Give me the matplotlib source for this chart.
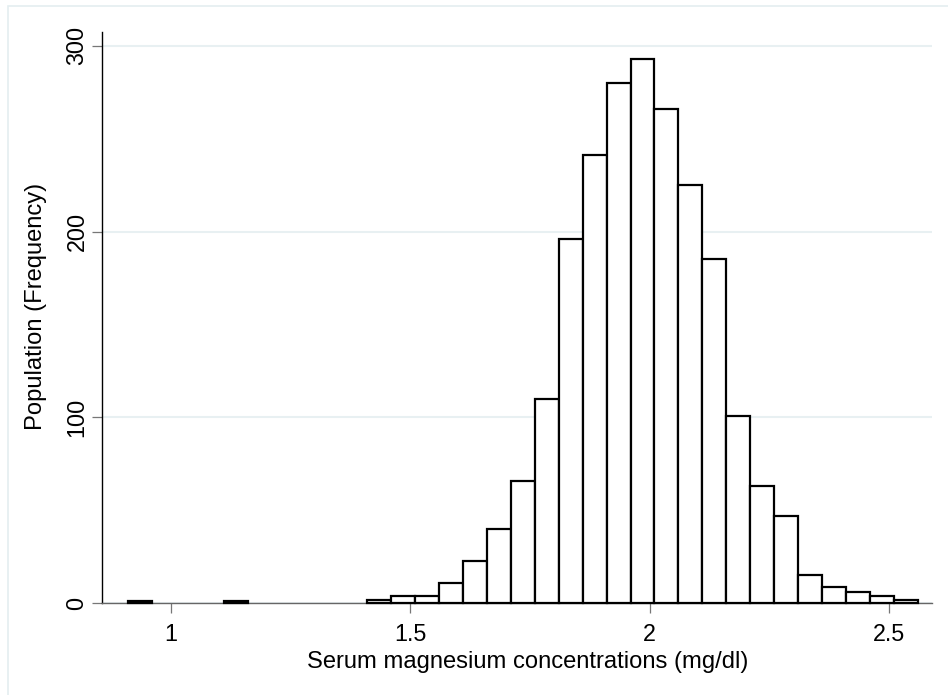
import matplotlib
matplotlib.use("Agg")
import matplotlib.pyplot as plt
from matplotlib.patches import Rectangle
import numpy as np

# ---- data ----
bin_start = 0.91
bin_width = 0.05
counts = [1, 0, 0, 0, 1, 0, 0, 0, 0, 0,
          2, 4, 4, 11, 23, 40, 66, 110, 196, 241,
          280, 293, 266, 225, 185, 101, 63, 47, 15, 9,
          6, 4, 2]
xticks = [1, 1.5, 2, 2.5]
xtick_labels = ["1", "1.5", "2", "2.5"]
yticks = [0, 100, 200, 300]
ytick_labels = ["0", "100", "200", "300"]
xlabel = "Serum magnesium concentrations (mg/dl)"
ylabel = "Population (Frequency)"

plt.rcParams['font.family'] = ['Liberation Sans', 'DejaVu Sans']

W, H = 948, 695
fig = plt.figure(figsize=(W / 100, H / 100), dpi=100)
fig.patch.set_facecolor("white")

# axes placement (pixels -> figure fraction)
L, R, T, B = 102, 932, 32, 603.3
ax = fig.add_axes([L / W, 1 - B / H, (R - L) / W, (B - T) / H])

edges = bin_start + bin_width * np.arange(len(counts) + 1)
left = edges[:-1]
c = np.array(counts)
mask = c > 0
ax.bar(left[mask], c[mask], width=bin_width, align="edge",
       facecolor="white", edgecolor="black", linewidth=1.6,
       zorder=3, clip_on=False)

ax.set_xlim(0.8558, 2.5898)
ax.set_ylim(0, 307.4)

ax.set_xticks(xticks)
ax.set_xticklabels(xtick_labels, fontsize=16.8)
ax.set_yticks(yticks)
ax.set_yticklabels(ytick_labels, fontsize=16.8, rotation=90, va="center")

ax.tick_params(axis="x", direction="out", length=7.2, width=0.9,
               color="#777777", pad=7.3)
ax.tick_params(axis="y", direction="out", length=7.2, width=0.9,
               color="#777777", pad=2.5)

ax.grid(axis="y", color="#e8f0f2", linewidth=1.5, zorder=0)
ax.set_axisbelow(True)

for s in ["top", "right"]:
    ax.spines[s].set_visible(False)
ax.spines["left"].set_color("black")
ax.spines["left"].set_linewidth(1.0)
ax.spines["bottom"].set_color("#666666")
ax.spines["bottom"].set_linewidth(1.0)

ax.set_xlabel(xlabel, fontsize=17.1, va="baseline", ha="center")
ax.xaxis.set_label_coords((528 - L) / (R - L), (B - 668) / (B - T))
ax.set_ylabel(ylabel, fontsize=17.1, va="center", ha="center")
ax.yaxis.set_label_coords((36 - L) / (R - L), (B - 306.5) / (B - T))

# light outer frame (partially outside the image)
fig.add_artist(Rectangle((7.7 / W, -0.5), 2, 1 - 6 / H + 0.5,
                         transform=fig.transFigure, fill=False,
                         edgecolor="#e4eef0", linewidth=1.2))

fig.savefig("out.png", dpi=100, facecolor="white")
